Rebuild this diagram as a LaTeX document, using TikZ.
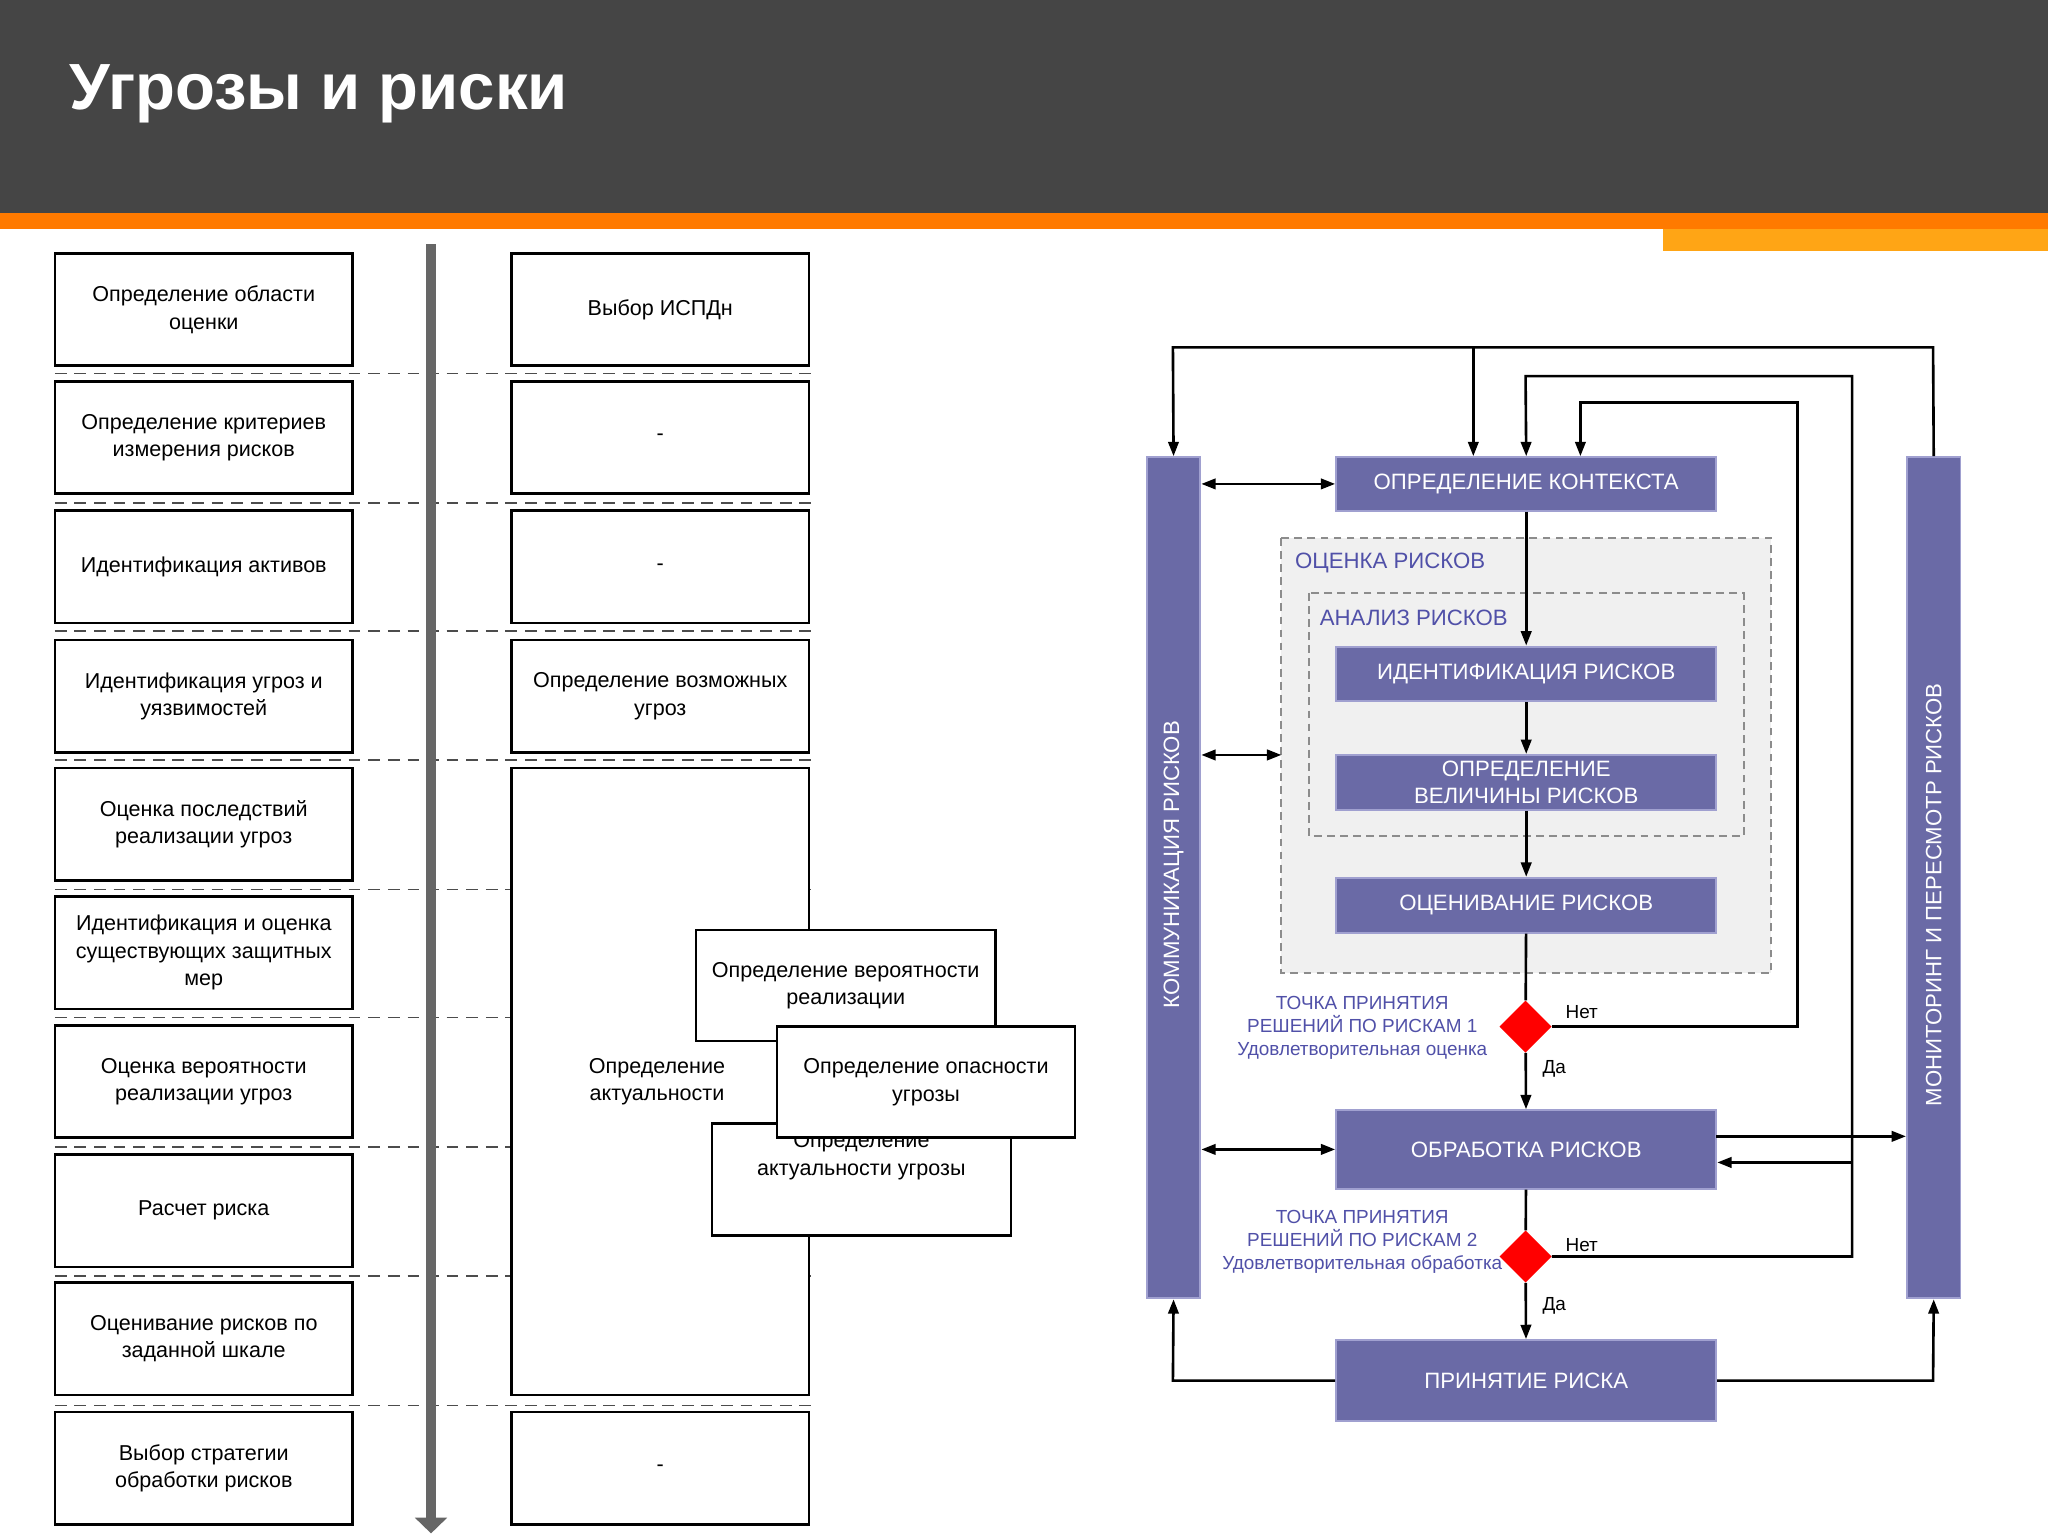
\documentclass[tikz,border=0pt]{standalone}
\usepackage{fontspec}
\setmainfont{Liberation Sans}
\usetikzlibrary{arrows.meta,shapes.geometric}
\definecolor{hdr}{HTML}{454545}
\definecolor{org}{HTML}{FF7A00}
\definecolor{org2}{HTML}{FFA515}
\definecolor{slate}{HTML}{6A6AA6}
\definecolor{slateb}{HTML}{A0A0D0}
\definecolor{lbl}{HTML}{5050A8}
\begin{document}
\begin{tikzpicture}[x=1pt,y=-1pt,
 lbox/.style={draw=black,line width=2pt,fill=white,minimum width=228pt,minimum height=86pt,align=center,font=\fontsize{16.5}{21}\selectfont,inner sep=2pt},
 sep/.style={dashed,dash pattern=on 9pt off 6pt,line width=1.3pt,draw=black!70},
 bbox/.style={draw=slateb,line width=1.5pt,fill=slate,text=white,minimum width=291pt,align=center,font=\fontsize{17}{20}\selectfont},
 bar/.style={draw=slateb,line width=1.5pt,fill=slate,minimum width=41pt,minimum height=644pt},
 arr/.style={-{Triangle[length=11pt,width=8pt]},line width=2pt},
 darr/.style={{Triangle[length=11pt,width=8pt]}-{Triangle[length=11pt,width=8pt]},line width=2pt},
 ln/.style={line width=2pt},
 tp/.style={text=lbl,font=\fontsize{14.5}{17.5}\selectfont,align=center},
 yn/.style={font=\fontsize{14.5}{17}\selectfont}]
\useasboundingbox (0,0) rectangle (1568,1176);
\fill[white] (0,0) rectangle (1568,1176);
% header
\fill[hdr] (0,0) rectangle (1568,163);
\fill[org] (0,163) rectangle (1568,175);
\fill[org2] (1273,175) rectangle (1568,192);
\node[anchor=west,text=white,font=\fontsize{50}{60}\selectfont\bfseries] (title) at (50,72) {Угрозы и риски};
% separators
\foreach \y in {286,385,483,582,681,779,878,977,1076} \draw[sep] (42,\y) -- (625,\y);
% vertical arrow
\draw[line width=7pt,draw=black!60,-{Triangle[length=12pt,width=24pt]}] (330,187) -- (330,1174);
% left column
\node[lbox] (l1) at (156,237) {Определение области\\оценки};
\node[lbox] (l2) at (156,335) {Определение критериев\\измерения рисков};
\node[lbox] (l3) at (156,434) {Идентификация активов};
\node[lbox] (l4) at (156,533) {Идентификация угроз и\\уязвимостей};
\node[lbox] (l5) at (156,631) {Оценка последствий\\реализации угроз};
\node[lbox] (l6) at (156,729.5) {Идентификация и оценка\\существующих защитных\\мер};
\node[lbox] (l7) at (156,828) {Оценка вероятности\\реализации угроз};
\node[lbox] (l8) at (156,927) {Расчет риска};
\node[lbox] (l9) at (156,1025) {Оценивание рисков по\\заданной шкале};
\node[lbox] (l10) at (156,1124) {Выбор стратегии\\обработки рисков};
% middle column
\node[lbox] (m1) at (505.5,237) {Выбор ИСПДн};
\node[lbox] (m2) at (505.5,335) {-};
\node[lbox] (m3) at (505.5,434) {-};
\node[lbox] (m4) at (505.5,533) {Определение возможных\\угроз};
\node[lbox,minimum height=480pt] (m5) at (505.5,828) {};
\node[font=\fontsize{16.5}{21}\selectfont,align=center] (m5t) at (503,828) {Определение\\актуальности};
\node[lbox] (m6) at (505.5,1124) {-};
\node[lbox,minimum width=229pt,minimum height=85pt] (s1) at (647.5,754.5) {Определение вероятности\\реализации};
\node[lbox,minimum width=229pt,minimum height=86pt] (s3) at (659.5,903) {Определение\\актуальности угрозы\\[18pt]};
\node[lbox,minimum width=228pt,minimum height=85pt] (s2) at (709,828.5) {Определение опасности\\угрозы};
% right diagram
\fill[black!6] (981,412) rectangle (1356,745);
\draw[dashed,dash pattern=on 6pt off 4pt,draw=black!45,line width=1.3pt] (981,412) rectangle (1356,745);
\draw[dashed,dash pattern=on 6pt off 4pt,draw=black!45,line width=1.3pt] (1002,454) rectangle (1335,640);
\node[tp,anchor=west,font=\fontsize{17}{20}\selectfont] (ocl) at (988,431) {ОЦЕНКА РИСКОВ};
\node[tp,anchor=west,font=\fontsize{17}{20}\selectfont] (anl) at (1007,473) {АНАЛИЗ РИСКОВ};
\node[bar] (kb) at (898.5,672) {};
\node[rotate=90,text=white,font=\fontsize{17}{20}\selectfont] (kbt) at (898.5,662) {КОММУНИКАЦИЯ РИСКОВ};
\node[bar] (mb) at (1480.5,672) {};
\node[rotate=90,text=white,font=\fontsize{17}{20}\selectfont] (mbt) at (1480.5,685) {МОНИТОРИНГ И ПЕРЕСМОТР РИСКОВ};
\node[bbox,minimum height=41pt] (ctx) at (1168.5,370.5) {ОПРЕДЕЛЕНИЕ КОНТЕКСТА};
\node[bbox,minimum height=42pt] (idr) at (1168.5,516) {ИДЕНТИФИКАЦИЯ РИСКОВ};
\node[bbox,minimum height=42pt,inner sep=1pt] (vel) at (1168.5,599) {ОПРЕДЕЛЕНИЕ\\ВЕЛИЧИНЫ РИСКОВ};
\node[bbox,minimum height=42pt] (ocv) at (1168.5,693) {ОЦЕНИВАНИЕ РИСКОВ};
\node[bbox,minimum height=60pt] (obr) at (1168.5,880) {ОБРАБОТКА РИСКОВ};
\node[bbox,minimum height=62pt] (pri) at (1168.5,1057) {ПРИНЯТИЕ РИСКА};
\node[diamond,fill=red,minimum width=40pt,minimum height=40pt,inner sep=0pt] (d1) at (1168,786) {};
\node[diamond,fill=red,minimum width=40pt,minimum height=40pt,inner sep=0pt] (d2) at (1168,962) {};
\node[tp] (t1) at (1043,787) {ТОЧКА ПРИНЯТИЯ\\РЕШЕНИЙ ПО РИСКАМ 1\\Удовлетворительная оценка};
\node[tp] (t2) at (1043,951) {ТОЧКА ПРИНЯТИЯ\\РЕШЕНИЙ ПО РИСКАМ 2\\Удовлетворительная обработка};
\node[yn] (n1) at (1211,775) {Нет};
\node[yn] (y1) at (1190,818) {Да};
\node[yn] (n2) at (1211,953) {Нет};
\node[yn] (y2) at (1190,1000) {Да};
% main flow
\draw[arr] (ctx) -- (idr);
\draw[arr] (idr) -- (vel);
\draw[arr] (vel) -- (ocv);
\draw[ln] (ocv) -- (d1);
\draw[arr] (d1) -- (obr);
\draw[ln] (obr) -- (d2);
\draw[arr] (d2) -- (pri);
% loops
\coordinate (c1) at (1376,786); \coordinate (c2) at (1376,308); \coordinate (c3) at (1210,308);
\draw[arr] (d1.east) -- (c1) -- (c2) -- (c3) -- (c3 |- ctx.north);
\coordinate (e1) at (1418,962); \coordinate (e2) at (1418,288); \coordinate (e3) at (1168,288);
\draw[arr] (d2.east) -- (e1) -- (e2) -- (e3) -- (ctx.north);
\coordinate (e4) at (1418,890);
\draw[arr] (e4) -- (e4 -| obr.east);
\coordinate (f1) at (1480,266); \coordinate (f2) at (898,266); \coordinate (f3) at (1128,266);
\draw[arr] (mb.north) -- (f1) -- (f2) -- (kb.north);
\draw[arr] (f3) -- (f3 |- ctx.north);
\coordinate (o1) at (1314,870);
\draw[arr] (o1) -- (o1 -| mb.west);
\draw[darr] (kb.east |- ctx) -- (ctx.west);
\coordinate (g1) at (981,578);
\draw[darr] (kb.east |- g1) -- (g1);
\coordinate (h1) at (1023,880);
\draw[darr] (kb.east |- h1) -- (obr.west);
\coordinate (b1) at (898,1057); \coordinate (b2) at (1480,1057);
\draw[arr] (pri.west) -- (b1) -- (kb.south);
\draw[arr] (pri.east) -- (b2) -- (mb.south);
\end{tikzpicture}
\end{document}
